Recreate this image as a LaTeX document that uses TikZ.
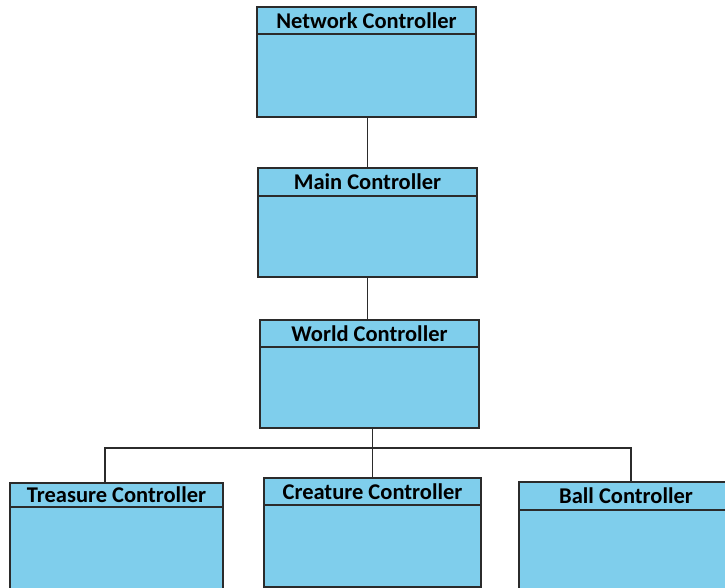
\documentclass[tikz,border=0pt]{standalone}
\usepackage{fontspec}
\setmainfont{Carlito}
\usepackage{tikz}
\usetikzlibrary{positioning}
\definecolor{Ctrl_Blue}{HTML}{7FCEEC}
\definecolor{Ctrl_Line}{HTML}{2B2B2B}

\begin{document}
\begin{tikzpicture}[x=1pt, y=-1pt,
    ctrlbox/.style={draw=Ctrl_Line, line width=1.3pt, fill=Ctrl_Blue, inner sep=0pt},
    ctrltitle/.style={draw=Ctrl_Line, line width=1.3pt, fill=Ctrl_Blue, inner sep=0pt, anchor=north, font=\fontsize{22.5}{25}\selectfont\bfseries},
    link/.style={draw=Ctrl_Line, line width=1.4pt}]
    \useasboundingbox (0,0) rectangle (725,588);
    \clip (0,0) rectangle (725,588);

    % Controller boxes with their header bars
    \node[ctrlbox, minimum width=219pt, minimum height=110pt] (net) at (366.5,62) {};
    \node[ctrltitle, minimum width=219pt, minimum height=27pt] (nettitle) at (net.north) {Network Controller};
    \node[ctrlbox, minimum width=219pt, minimum height=109pt] (main) at (367.5,222.5) {};
    \node[ctrltitle, minimum width=219pt, minimum height=28pt] (maintitle) at (main.north) {Main Controller};
    \node[ctrlbox, minimum width=219pt, minimum height=108pt] (world) at (369.5,374) {};
    \node[ctrltitle, minimum width=219pt, minimum height=27pt] (worldtitle) at (world.north) {World Controller};

    \node[ctrlbox, minimum width=213pt, minimum height=137pt] (treasure) at (116.5,551.5) {};
    \node[ctrltitle, minimum width=213pt, minimum height=24pt] (treasuretitle) at (treasure.north) {Treasure Controller};
    \node[ctrlbox, minimum width=217pt, minimum height=109pt] (creature) at (372.5,532.5) {};
    \node[ctrltitle, minimum width=217pt, minimum height=27pt] (creaturetitle) at (creature.north) {Creature Controller};
    \node[ctrlbox, minimum width=214pt, minimum height=138pt] (ball) at (626,551) {};
    \node[ctrltitle, minimum width=214pt, minimum height=28pt] (balltitle) at (ball.north) {Ball Controller};

    % Connectors
    \draw[link] (main.north |- net.south) -- (main.north);
    \draw[link] (main.south) -- (main.south |- world.north);
    \coordinate (bus) at (373,448);
    \draw[link] (creature.north |- world.south) -- (creature.north);
    \draw[link] ([xshift=-11.5pt]treasure.north) |- (bus) -| ([xshift=5pt]ball.north);
\end{tikzpicture}
\end{document}
